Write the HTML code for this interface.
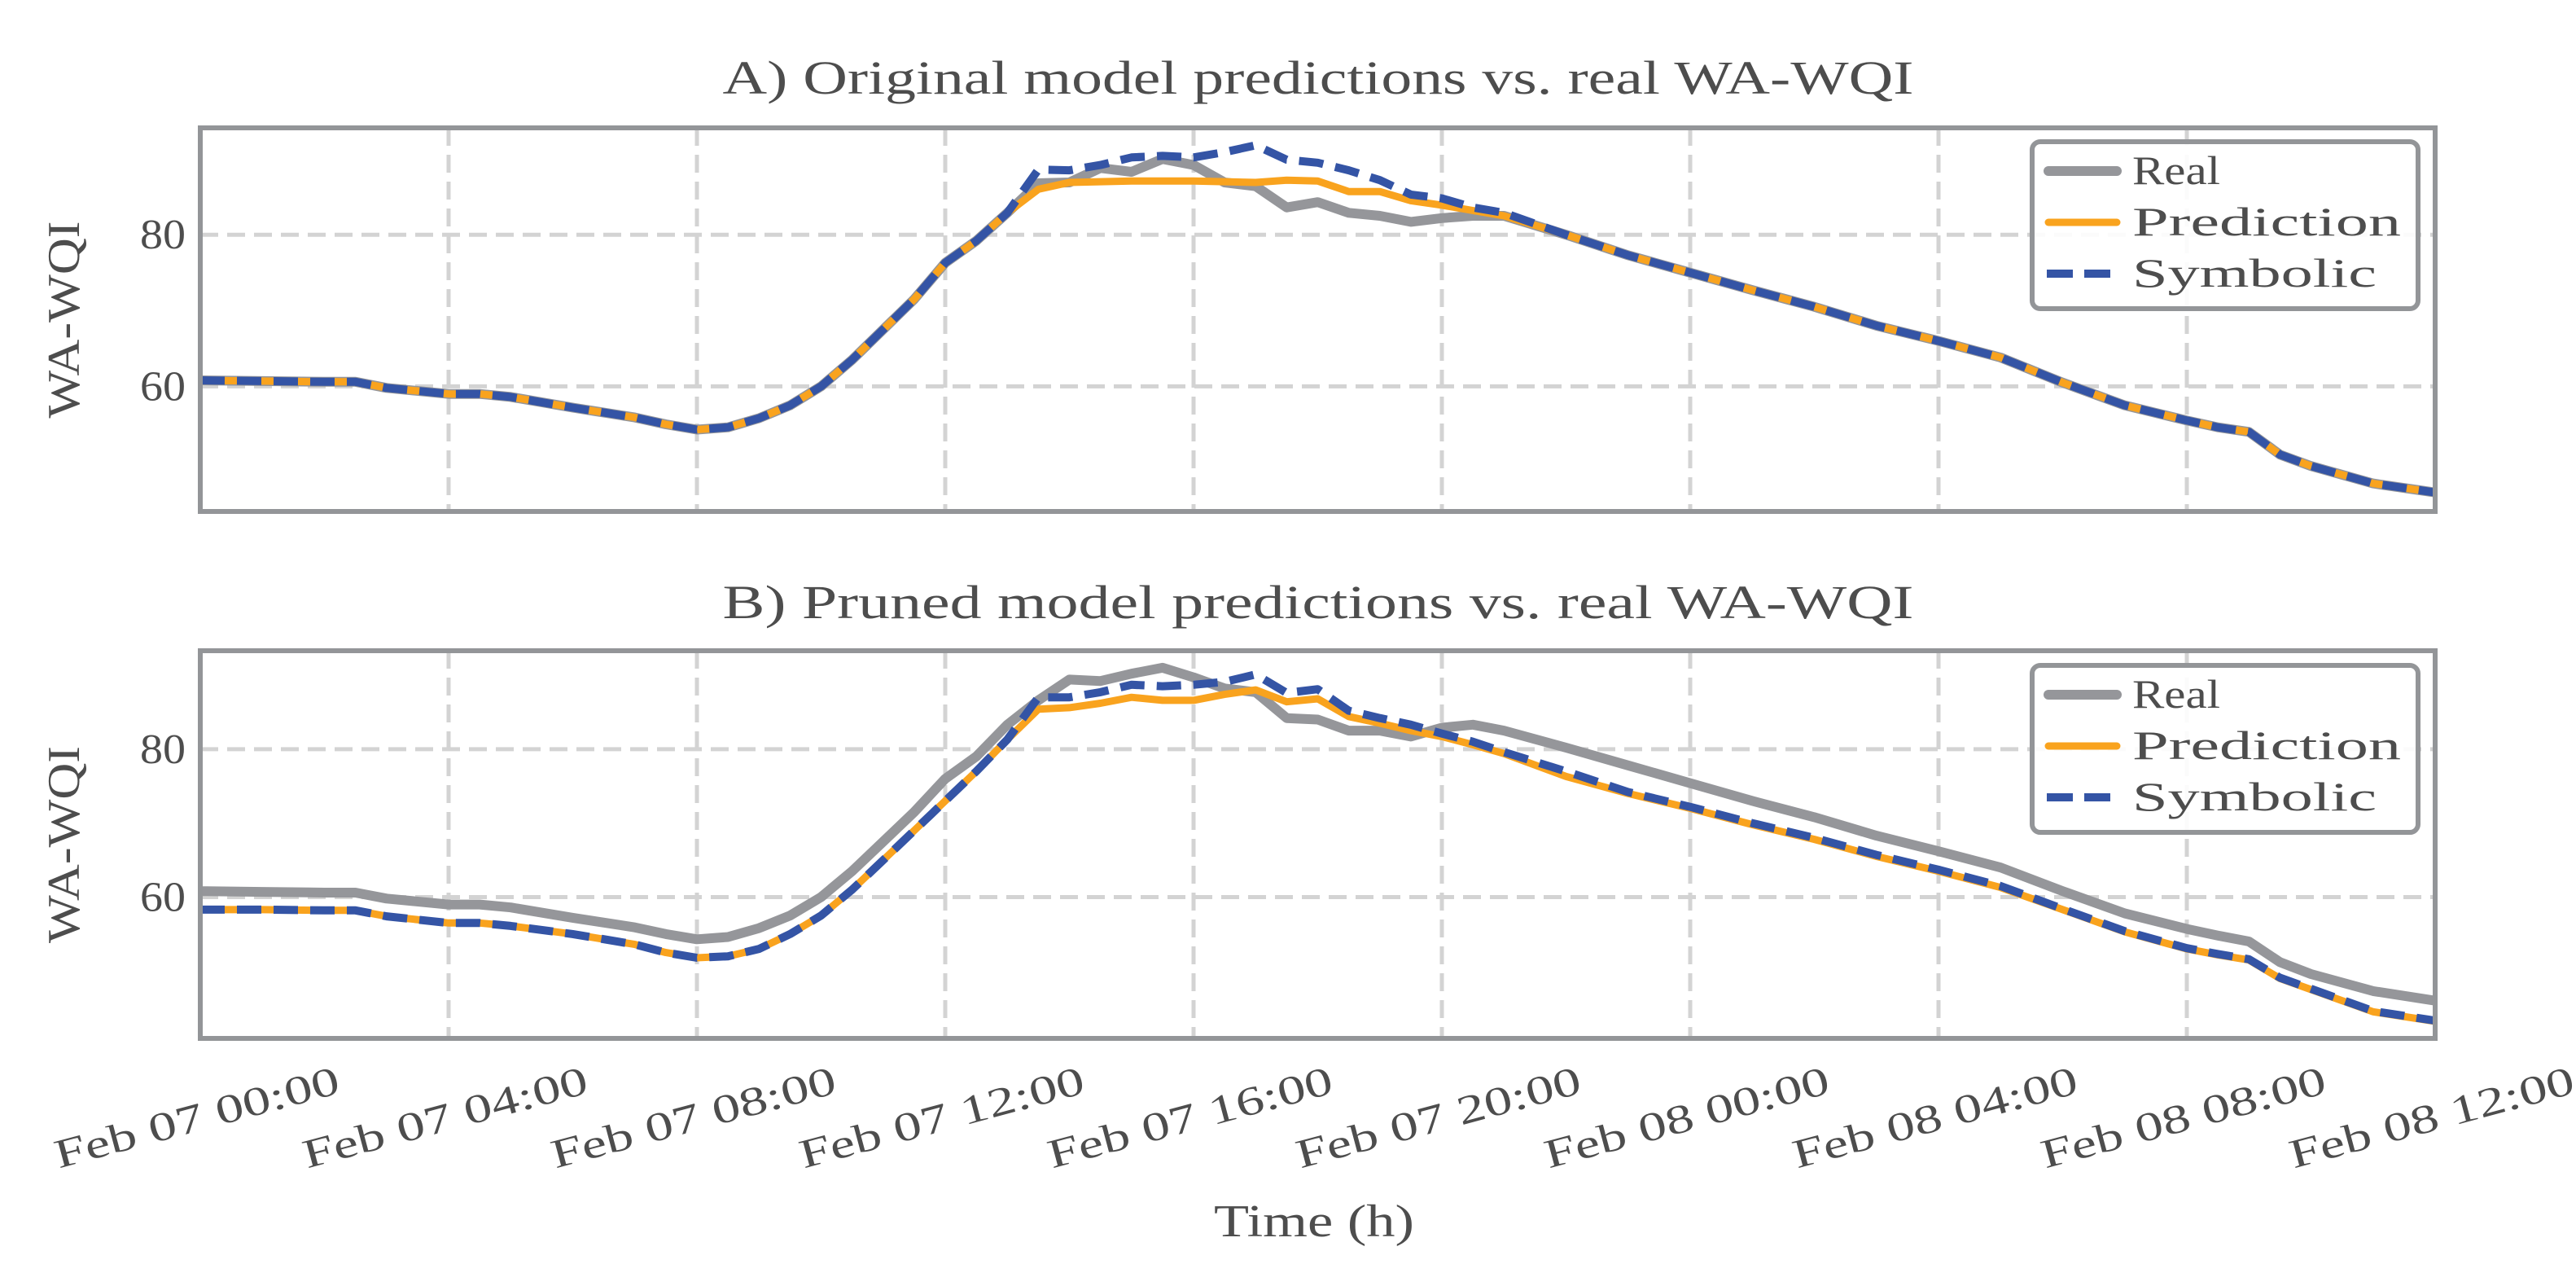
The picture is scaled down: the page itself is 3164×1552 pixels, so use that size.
<!DOCTYPE html>
<html><head><meta charset="utf-8"><style>
html,body{margin:0;padding:0;background:#fff}
svg{display:block}
text{font-family:"Liberation Serif",serif;fill:#4d4d4d}
</style></head><body>
<svg id="chart" width="3164" height="1552" viewBox="0 0 3164 1552" xmlns="http://www.w3.org/2000/svg"></svg>
<script>
const xTickHours=[0,4,8,12,16,20,24,28,32,36];
const xTickLabels=["Feb 07 00:00","Feb 07 04:00","Feb 07 08:00","Feb 07 12:00","Feb 07 16:00","Feb 07 20:00","Feb 08 00:00","Feb 08 04:00","Feb 08 08:00","Feb 08 12:00"];
const yTicks=[60,80];
const realHours=[0,1,2,2.5,3,4,4.5,5,6,7,7.5,8,8.5,9,9.5,10,10.5,11,11.5,12,12.5,13,13.5,14,14.5,15,15.5,16,16.5,17,17.5,18,18.5,19,19.5,20,20.5,21,22,23,24,25,26,27,28,29,30,31,32,32.5,33,33.5,34,35,36];
const realA=[60.8,60.7,60.6,60.6,59.8,59.0,59.0,58.6,57.2,55.9,55.0,54.3,54.6,55.8,57.5,60.0,63.5,67.5,71.5,76.3,79.2,82.9,86.8,86.9,88.8,88.3,90.0,89.2,86.9,86.4,83.6,84.3,82.9,82.5,81.7,82.2,82.5,82.5,80.0,77.3,75.0,72.7,70.5,68.0,66.0,63.8,60.5,57.5,55.5,54.6,54.0,51.0,49.5,47.2,46.0];
const predA=[60.8,60.7,60.6,60.6,59.8,59.0,59.0,58.6,57.2,55.9,55.0,54.3,54.6,55.8,57.5,60.0,63.5,67.5,71.5,76.3,79.2,82.9,86.0,86.9,87.0,87.1,87.1,87.1,87.0,86.9,87.2,87.1,85.7,85.7,84.5,83.9,83.2,82.5,80.0,77.3,75.0,72.7,70.5,68.0,66.0,63.8,60.5,57.5,55.5,54.6,54.0,51.0,49.5,47.2,46.0];
const symbA=[60.8,60.7,60.6,60.6,59.8,59.0,59.0,58.6,57.2,55.9,55.0,54.3,54.6,55.8,57.5,60.0,63.5,67.5,71.5,76.3,79.2,82.9,88.6,88.5,89.2,90.2,90.4,90.2,90.9,91.8,89.9,89.5,88.5,87.2,85.3,84.8,83.6,82.9,80.0,77.3,75.0,72.7,70.5,68.0,66.0,63.8,60.5,57.5,55.5,54.6,54.0,51.0,49.5,47.2,46.0];
const realB=[60.8,60.7,60.6,60.6,59.8,59.0,59.0,58.6,57.2,55.9,55.0,54.3,54.6,55.8,57.5,60.0,63.5,67.5,71.5,76.0,79.0,83.3,86.6,89.4,89.2,90.2,91.0,89.7,88.2,87.7,84.2,84.0,82.5,82.5,81.7,82.9,83.3,82.5,80.2,77.8,75.4,73.0,70.8,68.3,66.2,64.0,60.8,57.8,55.7,54.8,54.0,51.2,49.6,47.3,46.0];
const predB=[58.3,58.3,58.2,58.2,57.4,56.5,56.5,56.1,55.0,53.6,52.5,51.8,52.0,53.0,55.0,57.5,61.0,65.0,69.0,73.0,77.0,81.3,85.4,85.6,86.2,87.0,86.6,86.6,87.4,88.0,86.4,86.8,84.4,83.5,82.5,81.7,80.6,79.4,76.3,74.0,72.0,69.8,67.8,65.5,63.5,61.3,58.3,55.3,53.0,52.2,51.5,49.0,47.5,44.5,43.2];
const symbB=[58.3,58.3,58.2,58.2,57.4,56.5,56.5,56.1,55.0,53.6,52.5,51.8,52.0,53.0,55.0,57.5,61.0,65.0,69.0,73.0,77.0,81.3,87.0,87.0,87.7,88.7,88.5,88.7,89.1,90.1,87.6,88.1,85.2,84.2,83.3,82.1,81.0,79.6,77.0,74.2,72.2,70.0,68.0,65.7,63.7,61.5,58.4,55.4,53.1,52.3,51.6,49.1,47.6,44.6,43.3];

const NS="http://www.w3.org/2000/svg";
const svg=document.getElementById('chart');
function mk(tag,attrs,parent){const e=document.createElementNS(NS,tag);for(const k in attrs)e.setAttribute(k,attrs[k]);(parent||svg).appendChild(e);return e;}
const X0=246,X1=2991;
const xs=h=>X0+(h-0)/36*(X1-X0);
const panels=[
 {top:157,bot:628,ymax:94.1,ymin:43.5,title:"A) Original model predictions vs. real WA-WQI",ty:115,real:realA,pred:predA,symb:symbA,leg:174,key:'a'},
 {top:799,bot:1275,ymax:93.3,ymin:40.9,title:"B) Pruned model predictions vs. real WA-WQI",ty:759,real:realB,pred:predB,symb:symbB,leg:817,key:'b'}
];
panels.forEach(p=>{
 const ys=v=>p.top+(p.ymax-v)/(p.ymax-p.ymin)*(p.bot-p.top);
 const g=mk('g',{});
 
 
 const t=mk('text',{x:1619,y:p.ty,'text-anchor':'middle','font-size':58,textLength:1463,lengthAdjust:'spacingAndGlyphs'},g);
 t.textContent=p.title;
 
 
 xTickHours.slice(1,-1).forEach(h=>{
  const l=mk('line',{x1:xs(h),x2:xs(h),y1:p.top,y2:p.bot,stroke:'#d3d3d3','stroke-width':5,'stroke-dasharray':'22 11'},g);
  
  
 });
 yTicks.forEach(v=>{
  const l=mk('line',{x1:X0,x2:X1,y1:ys(v),y2:ys(v),stroke:'#d3d3d3','stroke-width':5,'stroke-dasharray':'22 11'},g);
  
  
  const tt=mk('text',{x:228,y:ys(v)+17,'text-anchor':'end','font-size':52,textLength:56,lengthAdjust:'spacingAndGlyphs'},g);
  tt.textContent=String(v);
  
  
 });
 const yl=mk('text',{x:0,y:0,'text-anchor':'middle','font-size':56,textLength:242,lengthAdjust:'spacingAndGlyphs',transform:`translate(97,${(p.top+p.bot)/2}) rotate(-90)`},g);
 yl.textContent='WA-WQI';
 
 
 const clipId='clip'+p.key;
 const cp=mk('clipPath',{id:clipId},g);mk('rect',{x:X0,y:p.top,width:X1-X0,height:p.bot-p.top},cp);
 const path=arr=>arr.map((v,i)=>(i?'L':'M')+xs(realHours[i]).toFixed(1)+','+ys(v).toFixed(1)).join('');
 const series=[[p.real,'#95969a',12,null,'real-line'],[p.pred,'#f9a31e',9,null,'prediction-line'],[p.symb,'#3454a5',10,'30 15','symbolic-line']];
 series.forEach(s=>{
  const a={d:path(s[0]),fill:'none',stroke:s[1],'stroke-width':s[2],'stroke-linejoin':'round','clip-path':`url(#${clipId})`};
  if(s[3])a['stroke-dasharray']=s[3];
  const e=mk('path',a,g);
  
  
 });
 const fr=mk('rect',{x:X0,y:p.top,width:X1-X0,height:p.bot-p.top,fill:'none',stroke:'#939598','stroke-width':6},g);
 
 
 const lg=mk('g',{},g);
 
 
 const L=p.leg;
 mk('rect',{x:2496,y:L,width:474,height:205,rx:10,fill:'#fff','fill-opacity':0.9,stroke:'#939598','stroke-width':6},lg);
 const names=['Real','Prediction','Symbolic'];
 const widths=[108,330,300];
 series.forEach((s,i)=>{
  const yy=L+36+i*63;
  const a={x1:2516,x2:2600,y1:yy,y2:yy,stroke:s[1],'stroke-width':s[2],'stroke-linecap':s[3]?'butt':'round'};
  if(s[3]){a['stroke-dasharray']='32 14';a.x1=2514;a.x2=2606;}
  const e=mk('line',a,lg);
  
  
  const tx=mk('text',{x:2619,y:yy+16,'font-size':50,textLength:widths[i],lengthAdjust:'spacingAndGlyphs'},lg);
  tx.textContent=names[i];
  
  
 });
});
xTickHours.forEach((h,i)=>{
 const t=mk('text',{x:0,y:0,'text-anchor':'middle','font-size':50,textLength:360,lengthAdjust:'spacingAndGlyphs',transform:`translate(${xs(h)},1388) rotate(-15)`});
 t.textContent=xTickLabels[i];
 
 
});
const xt=mk('text',{x:1614,y:1518,'text-anchor':'middle','font-size':56,textLength:246,lengthAdjust:'spacingAndGlyphs'});
xt.textContent='Time (h)';


</script>
</body></html>
